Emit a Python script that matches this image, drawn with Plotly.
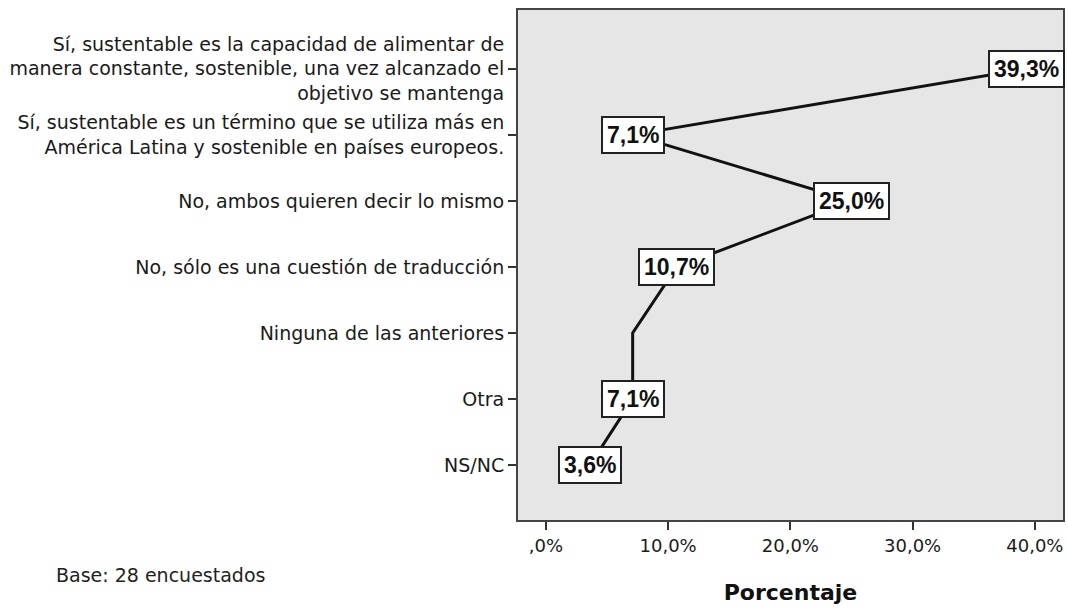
import plotly.graph_objects as go

categorias = [
    "Sí, sustentable es la capacidad de alimentar de<br>manera constante, sostenible, una vez alcanzado el<br>objetivo se mantenga",
    "Sí, sustentable es un término que se utiliza más en<br>América Latina y sostenible en países europeos.",
    "No, ambos quieren decir lo mismo",
    "No, sólo es una cuestión de traducción",
    "Ninguna de las anteriores",
    "Otra",
    "NS/NC",
]
porcentajes = [39.3, 7.1, 25.0, 10.7, 7.1, 7.1, 3.6]
mostrar_etiqueta = [True, True, True, True, False, True, True]

tick_vals = [0, 10, 20, 30, 40]
tick_text = [",0%", "10,0%", "20,0%", "30,0%", "40,0%"]

fig = go.Figure()

fig.add_trace(go.Scatter(
    x=porcentajes,
    y=categorias,
    mode="lines",
    line=dict(color="#111111", width=3),
    hoverinfo="skip",
))

# etiquetas con caja blanca
for cat, val, mostrar in zip(categorias, porcentajes, mostrar_etiqueta):
    if not mostrar:
        continue
    fig.add_annotation(
        x=val, y=cat, xref="x", yref="y",
        text=f"{val:.1f}".replace(".", ",") + "%",
        showarrow=False,
        font=dict(family="Liberation Sans, Arial", size=23, color="#111111", weight="bold"),
        bgcolor="white",
        bordercolor="#222222",
        borderwidth=2,
        borderpad=4,
    )

fig.add_annotation(
    x=-0.852, y=-0.108, xref="paper", yref="paper",
    text="Base: 28 encuestados",
    showarrow=False,
    xanchor="left", yanchor="middle",
    font=dict(family="DejaVu Sans", size=19, color="#222222"),
)

fig.update_layout(
    width=1068,
    height=611,
    margin=dict(l=518, r=3, t=10, b=91),
    plot_bgcolor="#e6e6e6",
    paper_bgcolor="white",
    showlegend=False,
    font=dict(family="DejaVu Sans", size=19, color="#1a1a1a"),
)

fig.update_xaxes(
    range=[-2.28, 42.3],
    tickvals=tick_vals,
    ticktext=tick_text,
    tickfont=dict(size=18),
    ticks="outside",
    ticklen=8,
    tickwidth=2,
    tickcolor="#333333",
    showgrid=False,
    zeroline=False,
    showline=True,
    linecolor="#444444",
    linewidth=2,
    mirror=True,
    title=dict(text="<b>Porcentaje</b>", font=dict(size=22, color="#111111"), standoff=30),
)

fig.update_yaxes(
    type="category",
    range=[6.83, -0.89],
    ticks="outside",
    ticklen=8,
    tickwidth=2,
    tickcolor="#333333",
    showgrid=False,
    zeroline=False,
    showline=True,
    linecolor="#444444",
    linewidth=2,
    mirror=True,
)

fig.write_html(
    "out.html",
    config={"displayModeBar": False},
    post_script="document.body.style.margin='0';",
)
